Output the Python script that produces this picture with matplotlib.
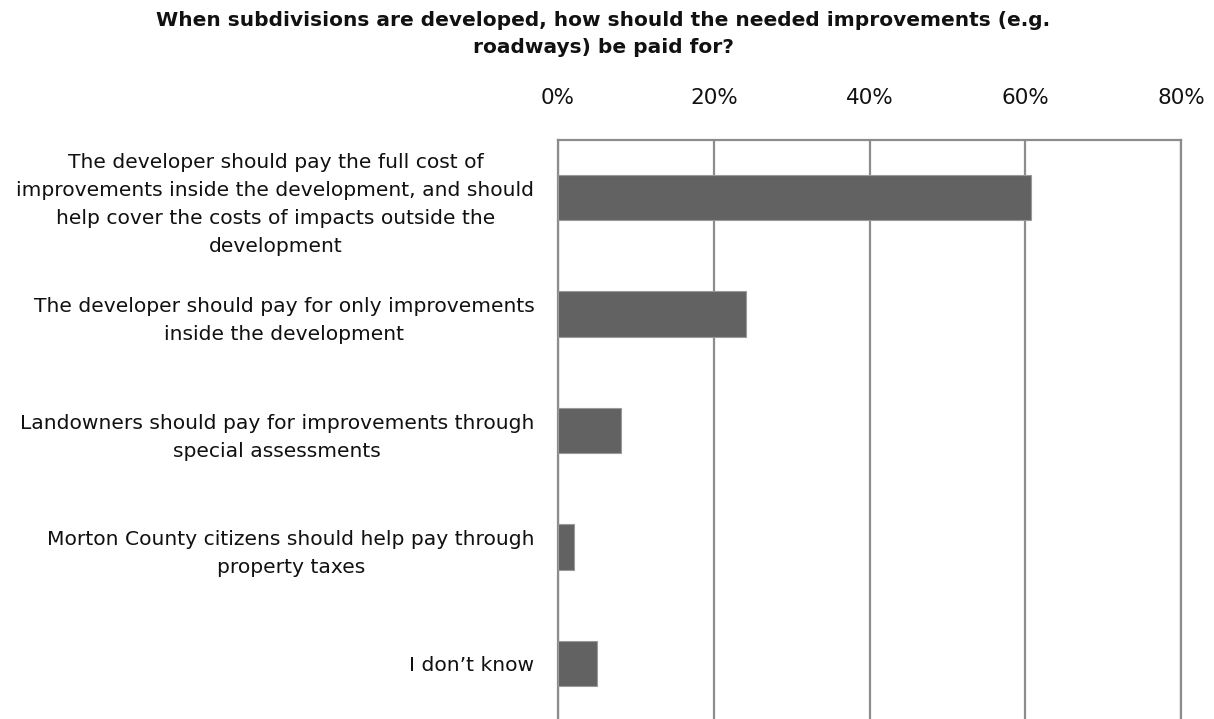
import numpy as np
import matplotlib.pyplot as plt

# Survey question: who should pay for subdivision improvements
categories = [
    "The developer should pay the full cost of\nimprovements inside the development, and should\nhelp cover the costs of impacts outside the\ndevelopment",
    "The developer should pay for only improvements\ninside the development",
    "Landowners should pay for improvements through\nspecial assessments",
    "Morton County citizens should help pay through\nproperty taxes",
    "I don\u2019t know",
]
shares = [60.8, 24.1, 8.1, 2.0, 5.0]  # percent of respondents
x_ticks = [0, 20, 40, 60, 80]
x_tick_labels = ["0%", "20%", "40%", "60%", "80%"]

title = ("When subdivisions are developed, how should the needed improvements (e.g.\n"
         "roadways) be paid for?")

plt.rcParams['font.family'] = ['DejaVu Sans']

fig = plt.figure(figsize=(12.14, 7.19), dpi=100)
ax = fig.add_axes([558 / 1214, 0.0, (1181 - 558) / 1214, (719 - 140) / 719])

grid_color = '#8c8c8c'
y = np.arange(len(categories))
ax.barh(y, shares, height=0.39, color='#626262', edgecolor='#9a9a9a',
        linewidth=0.8, zorder=3)

ax.set_xlim(0, 80)
ax.set_ylim(4.476, -0.494)

ax.xaxis.tick_top()
ax.set_xticks(x_ticks)
ax.set_xticklabels(x_tick_labels, fontsize=15.5, color='#111111')
ax.tick_params(axis='x', length=0, pad=23)

ax.set_yticks(y)
ax.set_yticklabels(categories, fontsize=14.6, color='#111111',
                   multialignment='center', linespacing=1.6)
ax.tick_params(axis='y', length=0, pad=17)

ax.grid(axis='x', color=grid_color, linewidth=1.6, zorder=0)
for side in ['left', 'top', 'right']:
    ax.spines[side].set_color(grid_color)
    ax.spines[side].set_linewidth(1.6)
ax.spines['bottom'].set_visible(False)

fig.text(0.497, 0.985, title, ha='center', va='top', fontsize=14.5,
         fontweight='bold', color='#111111', linespacing=1.52)

fig.savefig('out.png', dpi=100)
